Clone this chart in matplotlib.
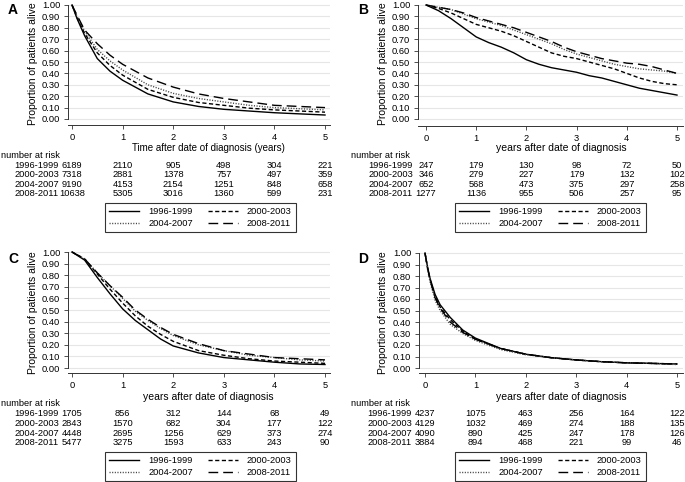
import numpy as np
import matplotlib
matplotlib.use('Agg')
import matplotlib.pyplot as plt
from matplotlib.transforms import blended_transform_factory
from matplotlib.lines import Line2D

plt.rcParams['font.family'] = ['Liberation Sans', 'DejaVu Sans']
plt.rcParams['lines.scale_dashes'] = False

groups = ['1996-1999', '2000-2003', '2004-2007', '2008-2011']
xticks = [0, 1, 2, 3, 4, 5]

# panel A
tA = [0, 0.1, 0.25, 0.5, 0.75, 1, 1.5, 2, 2.5, 3, 3.5, 4, 4.5, 5]
sA = [[1.0, 0.88, 0.73, 0.53, 0.42, 0.34, 0.22, 0.15, 0.11, 0.085, 0.07, 0.055, 0.045, 0.035],
      [1.0, 0.89, 0.75, 0.58, 0.47, 0.385, 0.26, 0.19, 0.145, 0.12, 0.095, 0.08, 0.07, 0.06],
      [1.0, 0.90, 0.77, 0.61, 0.51, 0.43, 0.30, 0.225, 0.18, 0.15, 0.12, 0.10, 0.09, 0.08],
      [1.0, 0.91, 0.78, 0.66, 0.56, 0.48, 0.36, 0.28, 0.22, 0.18, 0.15, 0.12, 0.11, 0.10]]
riskA = [[6189, 2110, 905, 498, 304, 221],
         [7318, 2881, 1378, 757, 497, 359],
         [9190, 4153, 2154, 1251, 848, 658],
         [10638, 5305, 3016, 1360, 599, 231]]

# panel B
tB = [0, 0.25, 0.5, 0.75, 1, 1.25, 1.5, 1.75, 2, 2.25, 2.5, 2.75, 3, 3.25, 3.5, 3.75, 4, 4.25, 4.5, 4.75, 5]
sB = [[1.0, 0.95, 0.88, 0.80, 0.72, 0.67, 0.63, 0.58, 0.52, 0.48, 0.45, 0.43, 0.41, 0.38, 0.36, 0.33, 0.30, 0.27, 0.25, 0.23, 0.21],
      [1.0, 0.97, 0.93, 0.88, 0.83, 0.80, 0.77, 0.73, 0.68, 0.63, 0.58, 0.55, 0.53, 0.50, 0.47, 0.44, 0.40, 0.36, 0.33, 0.31, 0.30],
      [1.0, 0.98, 0.96, 0.92, 0.88, 0.85, 0.82, 0.78, 0.74, 0.70, 0.66, 0.61, 0.57, 0.54, 0.51, 0.48, 0.46, 0.44, 0.43, 0.42, 0.40],
      [1.0, 0.98, 0.96, 0.93, 0.89, 0.86, 0.83, 0.80, 0.76, 0.72, 0.68, 0.63, 0.59, 0.56, 0.53, 0.51, 0.49, 0.48, 0.46, 0.43, 0.40]]
riskB = [[247, 179, 130, 98, 72, 50],
         [346, 279, 227, 179, 132, 102],
         [652, 568, 473, 375, 297, 258],
         [1277, 1136, 955, 506, 257, 95]]

# panel C
tC = [0, 0.25, 0.5, 0.75, 1, 1.25, 1.5, 1.75, 2, 2.5, 3, 3.5, 4, 4.5, 5]
sC = [[1.0, 0.93, 0.78, 0.64, 0.51, 0.41, 0.33, 0.25, 0.19, 0.13, 0.09, 0.07, 0.05, 0.035, 0.03],
      [1.0, 0.94, 0.81, 0.68, 0.56, 0.45, 0.36, 0.29, 0.23, 0.15, 0.11, 0.08, 0.06, 0.05, 0.04],
      [1.0, 0.94, 0.82, 0.71, 0.60, 0.49, 0.41, 0.34, 0.28, 0.20, 0.15, 0.11, 0.09, 0.07, 0.06],
      [1.0, 0.94, 0.82, 0.71, 0.61, 0.50, 0.42, 0.35, 0.29, 0.21, 0.15, 0.12, 0.09, 0.08, 0.07]]
riskC = [[1705, 856, 312, 144, 68, 49],
         [2843, 1570, 682, 304, 177, 122],
         [4448, 2695, 1256, 629, 373, 274],
         [5477, 3275, 1593, 633, 243, 90]]

# panel D
tD = [0, 0.05, 0.1, 0.2, 0.3, 0.5, 0.75, 1, 1.5, 2, 2.5, 3, 3.5, 4, 4.5, 5]
sD = [[1.0, 0.88, 0.78, 0.64, 0.55, 0.44, 0.33, 0.26, 0.17, 0.12, 0.09, 0.07, 0.055, 0.045, 0.04, 0.035],
      [1.0, 0.87, 0.77, 0.62, 0.53, 0.42, 0.32, 0.25, 0.17, 0.12, 0.09, 0.07, 0.055, 0.045, 0.04, 0.035],
      [1.0, 0.86, 0.75, 0.59, 0.50, 0.38, 0.30, 0.24, 0.16, 0.115, 0.09, 0.07, 0.055, 0.045, 0.04, 0.03],
      [1.0, 0.87, 0.77, 0.61, 0.52, 0.40, 0.31, 0.25, 0.17, 0.12, 0.09, 0.07, 0.055, 0.045, 0.04, 0.035]]
riskD = [[4237, 1075, 463, 256, 164, 122],
         [4129, 1032, 469, 274, 188, 135],
         [4090, 890, 425, 247, 178, 126],
         [3884, 894, 468, 221, 99, 46]]

W, H = 685, 482
fig = plt.figure(figsize=(W / 100, H / 100), dpi=100)

def fx(px):
    return px / W

def fy(py):
    return 1 - py / H

styles = [dict(ls='-', color='black', lw=1.0),
          dict(ls=(0, (3, 1.8)), color='black', lw=1.0),
          dict(ls=(0, (0.8, 1.1)), color='#444444', lw=1.0),
          dict(ls=(0, (7, 3.6)), color='black', lw=1.0)]

# layout in pixels: spine left, right edge, x=0, x=5, y=1, y=0, bottom spine
panels = [
    ('A', tA, sA, riskA, 'Time after date of diagnosis (years)', 7, (68, 330, 72, 325, 5, 119, 125), 0, 0),
    ('B', tB, sB, riskB, 'years after date of diagnosis', 7.5, (418, 683, 426, 677, 5, 119, 126), 350, 0),
    ('C', tC, sC, riskC, 'years after date of diagnosis', 7.5, (68, 330, 72, 325, 252, 368, 373), 0, 249),
    ('D', tD, sD, riskD, 'years after date of diagnosis', 7.5, (419, 683, 425, 677, 253, 368, 373), 350, 249),
]

for letter, t, surv, risk, xlab, xfs, geo, ox, oy in panels:
    sl, sr, x0, x5, y1, y0, sb = geo
    top = y1 - 2
    ppx = (x5 - x0) / 5.0
    ppy = (y0 - y1) / 1.0
    ax = fig.add_axes([fx(sl), fy(sb), (sr - sl) / W, (sb - top) / H])
    ax.set_xlim(-(x0 - sl) / ppx, 5 + (sr - x5) / ppx)
    ax.set_ylim(-(sb - y0) / ppy, 1 + (y1 - top) / ppy)
    for k in range(4):
        ax.plot(t, surv[k], **styles[k])
    ax.set_yticks(np.arange(0, 1.01, 0.1))
    ax.set_yticklabels(['%.2f' % v for v in np.arange(0, 1.01, 0.1)])
    ax.set_xticks(xticks)
    ax.grid(axis='y', color='#e6e6e6', lw=0.8)
    ax.set_axisbelow(True)
    for s in ['top', 'right']:
        ax.spines[s].set_visible(False)
    ax.spines['left'].set_bounds(0, 1)
    ax.spines['left'].set_color('#333333')
    ax.spines['bottom'].set_color('#333333')
    ax.spines['left'].set_linewidth(0.7)
    ax.spines['bottom'].set_linewidth(0.7)
    ax.tick_params(direction='out', length=3, width=0.6, labelsize=6.7, pad=2.5, colors='#333333', labelcolor='black')

    fig.text(fx(ox + 8), fy(oy + 10), letter, fontsize=10, fontweight='bold', ha='left', va='center')
    fig.text(fx(ox + 33), fy(oy + 64), 'Proportion of patients alive', rotation=90, fontsize=7.5, ha='center', va='center')
    fig.text(fx((x0 + x5) / 2 + 10), fy(oy + 148), xlab, fontsize=xfs, ha='center', va='center')

    fig.text(fx(ox + 1), fy(oy + 155), 'number at risk', fontsize=6.7, ha='left', va='center')
    tr = blended_transform_factory(ax.transData, fig.transFigure)
    for k in range(4):
        yy = fy(oy + 165 + 9.6 * k)
        fig.text(fx(x0 - 13), yy, groups[k], fontsize=6.7, ha='right', va='center')
        for j in range(6):
            ax.text(xticks[j], yy, str(risk[k][j]), transform=tr, fontsize=6.7, ha='center', va='center', clip_on=False)

    handles = [Line2D([], [], **styles[0]), Line2D([], [], **styles[2]),
               Line2D([], [], **styles[1]), Line2D([], [], **styles[3])]
    labels = [groups[0], groups[2], groups[1], groups[3]]
    leg = fig.legend(handles, labels, ncol=2, loc='upper left',
                     bbox_to_anchor=(fx(ox + 105), fy(oy + 203)), borderaxespad=0,
                     frameon=True, fancybox=False, edgecolor='black', fontsize=6.7,
                     handlelength=3.2, handletextpad=1.0, columnspacing=1.6,
                     labelspacing=0.3, borderpad=0.45)
    leg.get_frame().set_linewidth(0.8)

fig.savefig('out.png', dpi=100)
